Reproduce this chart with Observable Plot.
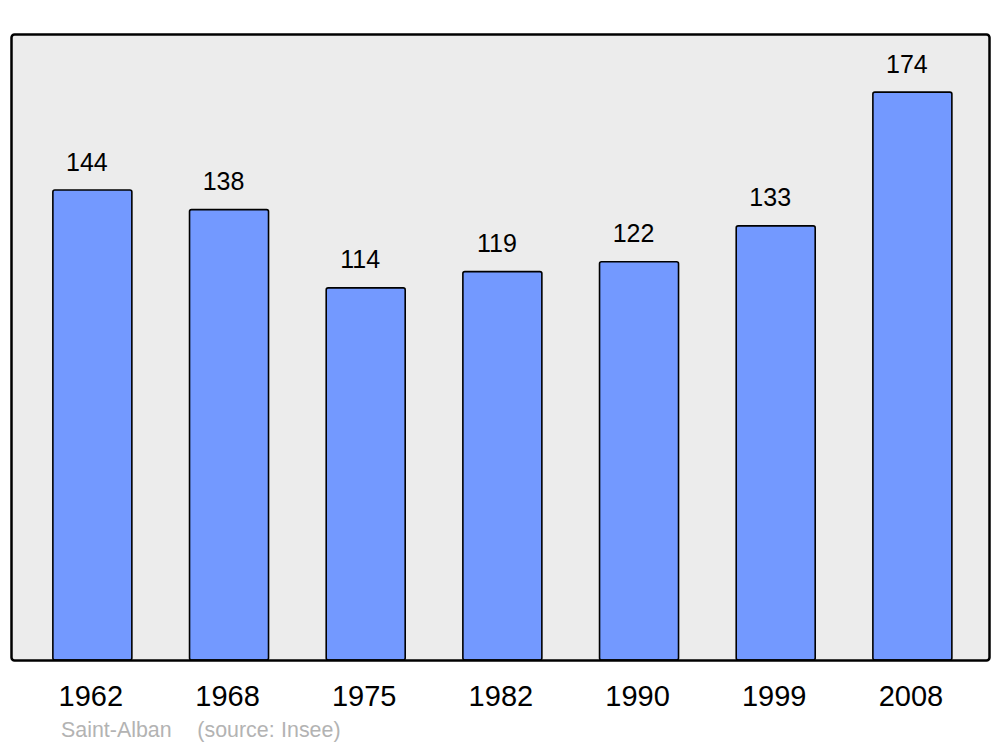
<!DOCTYPE html>
<html>
<head>
<meta charset="utf-8">
<script src="https://cdn.jsdelivr.net/npm/d3@7"></script>
<script src="https://cdn.jsdelivr.net/npm/@observablehq/plot@0.6"></script>
<style>
  html, body { margin: 0; padding: 0; background: #fff; }
  body { width: 1000px; height: 747px; position: relative; font-family: "Liberation Sans", Arial, sans-serif; }
  #caption { position: absolute; left: 61px; top: 717px; font-size: 21.4px; color: #b3b3b3; white-space: pre; line-height: 26px; word-spacing: 0.5px; }
</style>
</head>
<body>
<div id="chart"></div>
<div id="caption">Saint-Alban    (source: Insee)</div>
<script>
const years = ["1962", "1968", "1975", "1982", "1990", "1999", "2008"];
const population = [144, 138, 114, 119, 122, 133, 174];

const data = years.map((y, i) => ({year: y, pop: population[i]}));

const chart = Plot.plot({
  width: 1000,
  height: 712,
  marginTop: 34,
  marginBottom: 52,
  marginLeft: 11,
  marginRight: 11,
  style: {fontFamily: "'Liberation Sans', Arial, sans-serif", background: "transparent", color: "#000"},
  x: {domain: years, paddingInner: 0.422, paddingOuter: 0.289, align: 0.53, round: false, label: null},
  y: {domain: [0, 191.8], axis: null},
  marks: [
    Plot.frame({fill: "#ececec", stroke: null}),
    Plot.barY(data, {x: "year", y: "pop", fill: "#7399ff", stroke: "#000", strokeWidth: 1.6, rx: 2}),
    Plot.text(data, {x: "year", y: "pop", text: d => String(d.pop), dy: -28, dx: -6, fontSize: 25, fill: "#000"}),
    Plot.frame({stroke: "#000", strokeWidth: 2.5, rx: 3, fill: null}),
    Plot.axisX({tickSize: 0, tickPadding: 0, dy: 25, dx: -2, fontSize: 29, label: null, fill: "#000"})
  ]
});
document.getElementById("chart").appendChild(chart);
</script>
</body>
</html>
